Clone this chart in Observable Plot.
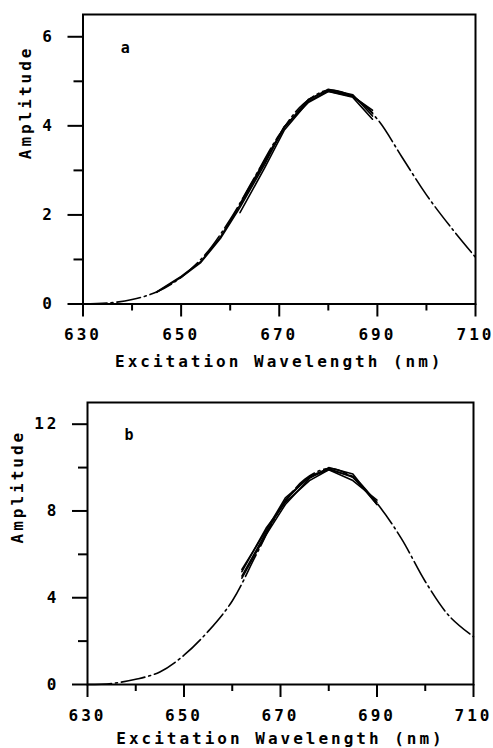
<!DOCTYPE html>
<html>
<head>
<meta charset="utf-8">
<script src="https://cdn.jsdelivr.net/npm/d3@7"></script>
<script src="https://cdn.jsdelivr.net/npm/@observablehq/plot@0.6"></script>
<style>
  html, body { margin: 0; padding: 0; background: #fff; }
  #chart svg { display: block; }
</style>
</head>
<body>
<div id="chart"></div>
<script>
// ---- data ----
const fitWavelength = [630,635,640,645,650,655,660,665,670,675,680,685,690,695,700,705,710];
const fitA = [0.0,0.02,0.1,0.27,0.6,1.12,1.9,2.85,3.8,4.5,4.8,4.65,4.15,3.3,2.45,1.72,1.05];
const fitB = [0.0,0.05,0.24,0.58,1.35,2.45,3.85,6.0,8.1,9.45,9.95,9.55,8.35,6.75,4.75,3.15,2.2];

const measWavelengthLong = [645,650,654,658,662,667,671,676,680,685,689];
const measA1 = [0.27,0.62,0.95,1.5,2.22,3.18,3.95,4.6,4.8,4.68,4.3];
const measA2 = [0.26,0.6,0.93,1.47,2.17,3.13,3.98,4.53,4.77,4.64,4.15];
const measWavelengthShortA = [662,667,671,676,680,685,689];
const measA3 = [2.05,3.05,3.9,4.55,4.78,4.66,4.35];
const measA4 = [2.25,3.22,3.97,4.58,4.82,4.7,4.22];

const measWavelengthB = [662,667,671,676,680,685,690];
const measB1 = [5.0,7.0,8.5,9.6,9.95,9.55,8.4];
const measB2 = [5.2,7.2,8.4,9.4,9.9,9.6,8.3];
const measB3 = [5.3,7.1,8.6,9.55,9.9,9.4,8.5];
const measB4 = [4.9,6.9,8.3,9.5,10.0,9.7,8.3];

const xMajorTicks = [630,650,670,690,710];
const xMinorTicks = [640,660,680,700];
const yMajorTicksA = [0,2,4,6];
const yMinorTicksA = [1,3,5];
const yMajorTicksB = [0,4,8,12];
const yMinorTicksB = [2,6,10];
const xTitle = "Excitation Wavelength (nm)";
const yTitle = "Amplitude";

// ---- helpers ----
const toRows = (xs, ys, id) => xs.map((x, i) => ({x, y: ys[i], id}));
const FONT = "DejaVu Sans Mono";

function panel({fit, series, yMax, yMajor, yMinor, letter, letterPos, height, margins, titleDy, yTitleDx}) {
  const measRows = series.flatMap(([xs, ys], k) => toRows(xs, ys, "s" + k));
  const fitRows = toRows(fitWavelength, fit, "fit");
  const svg = Plot.plot({
    width: 493,
    height,
    ...margins,
    style: {fontFamily: FONT, fontSize: "16px", color: "black", background: "white", overflow: "visible"},
    x: {domain: [630, 710]},
    y: {domain: [0, yMax]},
    marks: [
      Plot.frame({stroke: "black", strokeWidth: 2}),
      Plot.line(fitRows, {x: "x", y: "y", stroke: "black", strokeWidth: 1.6, strokeDasharray: "24,4,2,4", curve: "catmull-rom"}),
      Plot.line(measRows, {x: "x", y: "y", z: "id", stroke: "black", strokeWidth: 1.6}),
      Plot.axisX({ticks: xMajorTicks, tickSize: 13, tickPadding: 12, strokeWidth: 2, fontWeight: "bold", fontSize: 16, label: null, tickFormat: d => String(d)}),
      Plot.axisX({ticks: xMinorTicks, tickSize: 7, strokeWidth: 2, text: null, label: null}),
      Plot.axisY({ticks: yMajor, tickSize: 15, tickPadding: 13, strokeWidth: 2, fontWeight: "bold", fontSize: 16, label: null, tickFormat: d => String(d)}),
      Plot.axisY({ticks: yMinor, tickSize: 9, strokeWidth: 2, text: null, label: null}),
      Plot.text([xTitle], {frameAnchor: "bottom", dy: titleDy, fontSize: 16, fontWeight: "bold", lineAnchor: "middle"}),
      Plot.text([yTitle], {frameAnchor: "left", dx: yTitleDx, rotate: -90, fontSize: 16, fontWeight: "bold", lineAnchor: "middle"}),
      Plot.text([letter], {x: letterPos[0], y: letterPos[1], fontSize: 15, fontWeight: "bold"})
    ]
  });
  // wide plotter-style lettering
  d3.select(svg).selectAll("text").attr("letter-spacing", "3");
  return svg;
}

const chart = document.getElementById("chart");
chart.append(panel({
  fit: fitA,
  series: [[measWavelengthLong, measA1], [measWavelengthLong, measA2], [measWavelengthShortA, measA3], [measWavelengthShortA, measA4]],
  yMax: 6.5, yMajor: yMajorTicksA, yMinor: yMinorTicksA,
  letter: "a", letterPos: [638.9, 5.75],
  height: 370,
  margins: {marginTop: 14, marginBottom: 66.5, marginLeft: 82.5, marginRight: 18},
  titleDy: 58, yTitleDx: -57
}));
chart.append(panel({
  fit: fitB,
  series: [[measWavelengthB, measB1], [measWavelengthB, measB2], [measWavelengthB, measB3], [measWavelengthB, measB4]],
  yMax: 13, yMajor: yMajorTicksB, yMinor: yMinorTicksB,
  letter: "b", letterPos: [638.9, 11.5],
  height: 378,
  margins: {marginTop: 32, marginBottom: 64, marginLeft: 87, marginRight: 20},
  titleDy: 54, yTitleDx: -70
}));
</script>
</body>
</html>
